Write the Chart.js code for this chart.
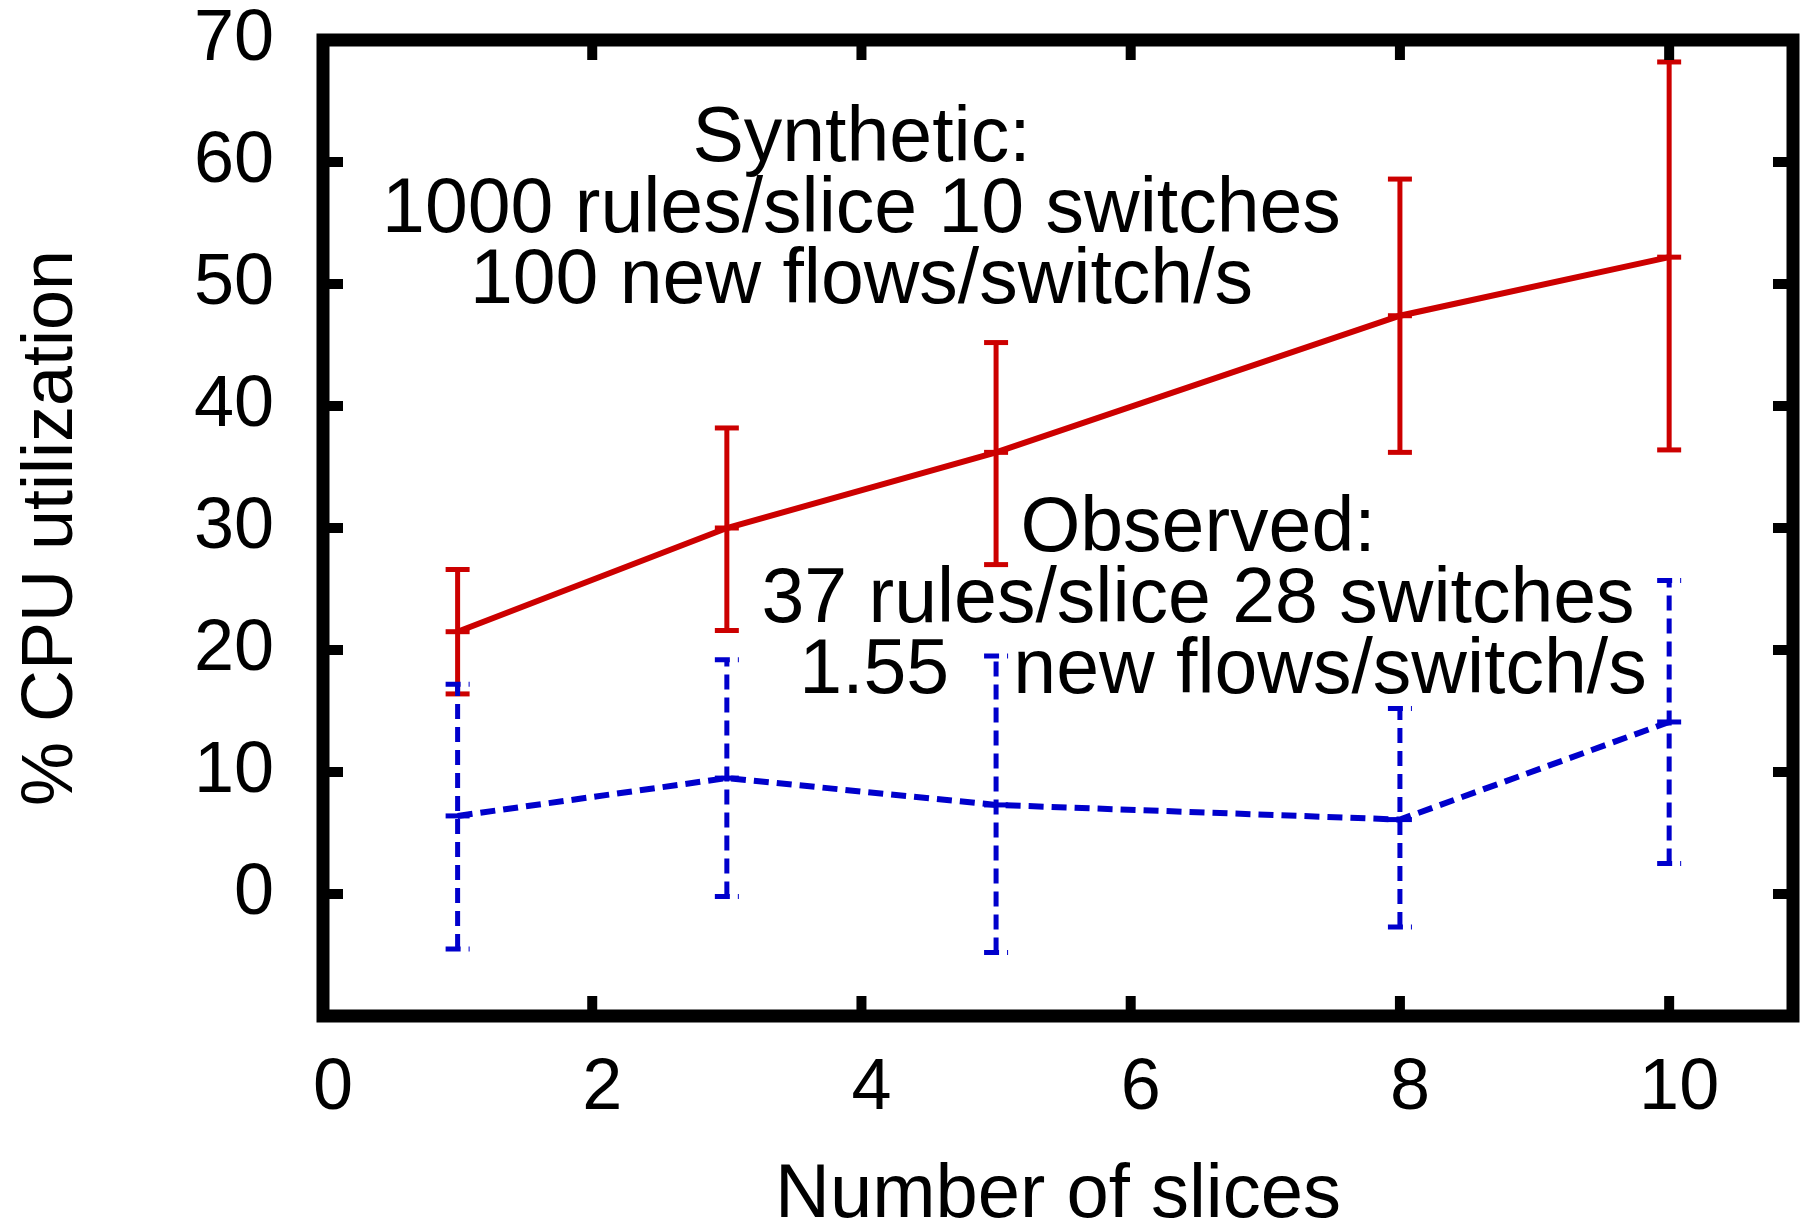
<!DOCTYPE html>
<html lang="en">
  <head>
    <meta charset="UTF-8" />
    <title>CPU utilization vs number of slices</title>
    <script src="https://cdn.jsdelivr.net/npm/chart.js"></script>
    <style>
      body { margin: 0; background: #fff; }
    </style>
  </head>
  <body>
    <canvas id="cpuChart" width="1810" height="1226"></canvas>
    <script>
      const slices = [1, 3, 5, 8, 10];
      const synthMean = [21.5, 30.0, 36.2, 47.4, 52.2];
      const synthLow = [16.4, 21.6, 27.0, 36.2, 36.4];
      const synthHigh = [26.6, 38.2, 45.2, 58.6, 68.2];
      const obsMean = [6.4, 9.5, 7.3, 6.1, 14.1];
      const obsLow = [-4.5, -0.2, -4.8, -2.7, 2.5];
      const obsHigh = [17.2, 19.2, 19.5, 15.2, 25.7];
      const xTicks = [0, 2, 4, 6, 8, 10];
      const yTicks = [0, 10, 20, 30, 40, 50, 60, 70];
      const synthNote = ["Synthetic:", "1000 rules/slice 10 switches", "100 new flows/switch/s"];
      const obsNote = ["Observed:", "37 rules/slice 28 switches", "1.55   new flows/switch/s"];

      const FONT = "'Liberation Sans', Arial, Helvetica, sans-serif";
      const RED = "#cc0000";
      const BLUE = "#0000cc";

      // gnuplot style error bars with caps
      const errorBars = {
        id: "errorBars",
        beforeDatasetsDraw(chart) {
          const { ctx } = chart;
          const xs = chart.scales.x;
          const ys = chart.scales.y;
          chart.data.datasets.forEach((ds) => {
            ctx.save();
            ctx.strokeStyle = ds.borderColor;
            ctx.lineWidth = 5;
            ctx.lineCap = "butt";
            slices.forEach((s, i) => {
              const px = xs.getPixelForValue(s);
              const top = ys.getPixelForValue(ds.high[i]);
              const bot = ys.getPixelForValue(ds.low[i]);
              ctx.setLineDash(ds.borderDash || []);
              ctx.beginPath();
              ctx.moveTo(px, bot);
              ctx.lineTo(px, top);
              ctx.stroke();
              [top, bot].forEach((py) => {
                ctx.beginPath();
                ctx.moveTo(px - 12, py);
                ctx.lineTo(px + 12, py);
                ctx.stroke();
              });
            });
            ctx.restore();
          });
        },
      };

      // thick border with inward ticks on all four sides
      const frame = {
        id: "frame",
        afterDraw(chart) {
          const { ctx, chartArea: a } = chart;
          const xs = chart.scales.x;
          const ys = chart.scales.y;
          ctx.save();
          ctx.strokeStyle = "#000";
          ctx.lineWidth = 10;
          xTicks.forEach((v) => {
            const px = xs.getPixelForValue(v);
            ctx.beginPath();
            ctx.moveTo(px, a.bottom);
            ctx.lineTo(px, a.bottom - 20);
            ctx.moveTo(px, a.top);
            ctx.lineTo(px, a.top + 20);
            ctx.stroke();
          });
          yTicks.forEach((v) => {
            const py = ys.getPixelForValue(v);
            ctx.beginPath();
            ctx.moveTo(a.left, py);
            ctx.lineTo(a.left + 20, py);
            ctx.moveTo(a.right, py);
            ctx.lineTo(a.right - 20, py);
            ctx.stroke();
          });
          ctx.lineWidth = 13;
          ctx.strokeRect(a.left, a.top, a.right - a.left, a.bottom - a.top);
          ctx.restore();
        },
      };

      const notes = {
        id: "notes",
        afterDatasetsDraw(chart) {
          const { ctx } = chart;
          const xs = chart.scales.x;
          const ys = chart.scales.y;
          const blocks = [
            { lines: synthNote, x: 4, y: 56, dx: [0, 0, 0] },
            { lines: obsNote, x: 6.5, y: 24, dx: [0, 0, 25] },
          ];
          ctx.save();
          ctx.fillStyle = "#000";
          ctx.font = "77px " + FONT;
          ctx.textAlign = "center";
          ctx.textBaseline = "middle";
          blocks.forEach((b) => {
            const cx = xs.getPixelForValue(b.x);
            const cy = ys.getPixelForValue(b.y);
            b.lines.forEach((t, i) => {
              ctx.fillText(t, cx + b.dx[i], cy + (i - 1) * 71);
            });
          });
          ctx.restore();
        },
      };

      const ctx = document.getElementById("cpuChart").getContext("2d");

      new Chart(ctx, {
        type: "line",
        data: {
          datasets: [
            {
              label: "Synthetic",
              data: slices.map((s, i) => ({ x: s, y: synthMean[i] })),
              low: synthLow,
              high: synthHigh,
              borderColor: RED,
              backgroundColor: RED,
              borderWidth: 6,
              pointStyle: "line",
              pointRadius: 12,
              pointBorderWidth: 5,
              pointBorderColor: RED,
              tension: 0,
              fill: false,
            },
            {
              label: "Observed",
              data: slices.map((s, i) => ({ x: s, y: obsMean[i] })),
              low: obsLow,
              high: obsHigh,
              borderColor: BLUE,
              backgroundColor: BLUE,
              borderWidth: 6,
              borderDash: [15, 8],
              pointStyle: "line",
              pointRadius: 12,
              pointBorderWidth: 5,
              pointBorderColor: BLUE,
              tension: 0,
              fill: false,
            },
          ],
        },
        options: {
          responsive: false,
          animation: false,
          devicePixelRatio: 1,
          layout: { padding: { top: 40, right: 0, left: 0, bottom: 0 } },
          plugins: {
            legend: { display: false },
            tooltip: { enabled: false },
          },
          scales: {
            x: {
              type: "linear",
              min: 0,
              max: 10.92,
              afterBuildTicks: (s) => {
                s.ticks = xTicks.map((v) => ({ value: v }));
              },
              afterFit: (s) => {
                s.height = 210;
                s.paddingLeft = 0;
                s.paddingRight = 0;
              },
              grid: { display: false, drawTicks: false },
              border: { display: false },
              ticks: {
                color: "#000",
                font: { family: FONT, size: 72, lineHeight: 1 },
                padding: 37,
                labelOffset: 10,
                autoSkip: false,
                maxRotation: 0,
              },
              title: {
                display: true,
                text: "Number of slices",
                color: "#000",
                font: { family: FONT, size: 76, lineHeight: 0.8 },
                padding: { top: 0, bottom: 0 },
              },
            },
            y: {
              type: "linear",
              min: -10,
              max: 70,
              afterBuildTicks: (s) => {
                s.ticks = yTicks.map((v) => ({ value: v }));
              },
              afterFit: (s) => {
                s.width = 323;
                s.paddingTop = 0;
                s.paddingBottom = 0;
              },
              grid: { display: false, drawTicks: false },
              border: { display: false },
              ticks: {
                color: "#000",
                font: { family: FONT, size: 72, lineHeight: 1 },
                padding: 49,
              },
              title: {
                display: true,
                text: "% CPU utilization",
                color: "#000",
                font: { family: FONT, size: 72, lineHeight: 1 },
                padding: { top: 16, bottom: 0 },
              },
            },
          },
        },
        plugins: [errorBars, notes, frame],
      });
    </script>
  </body>
</html>
